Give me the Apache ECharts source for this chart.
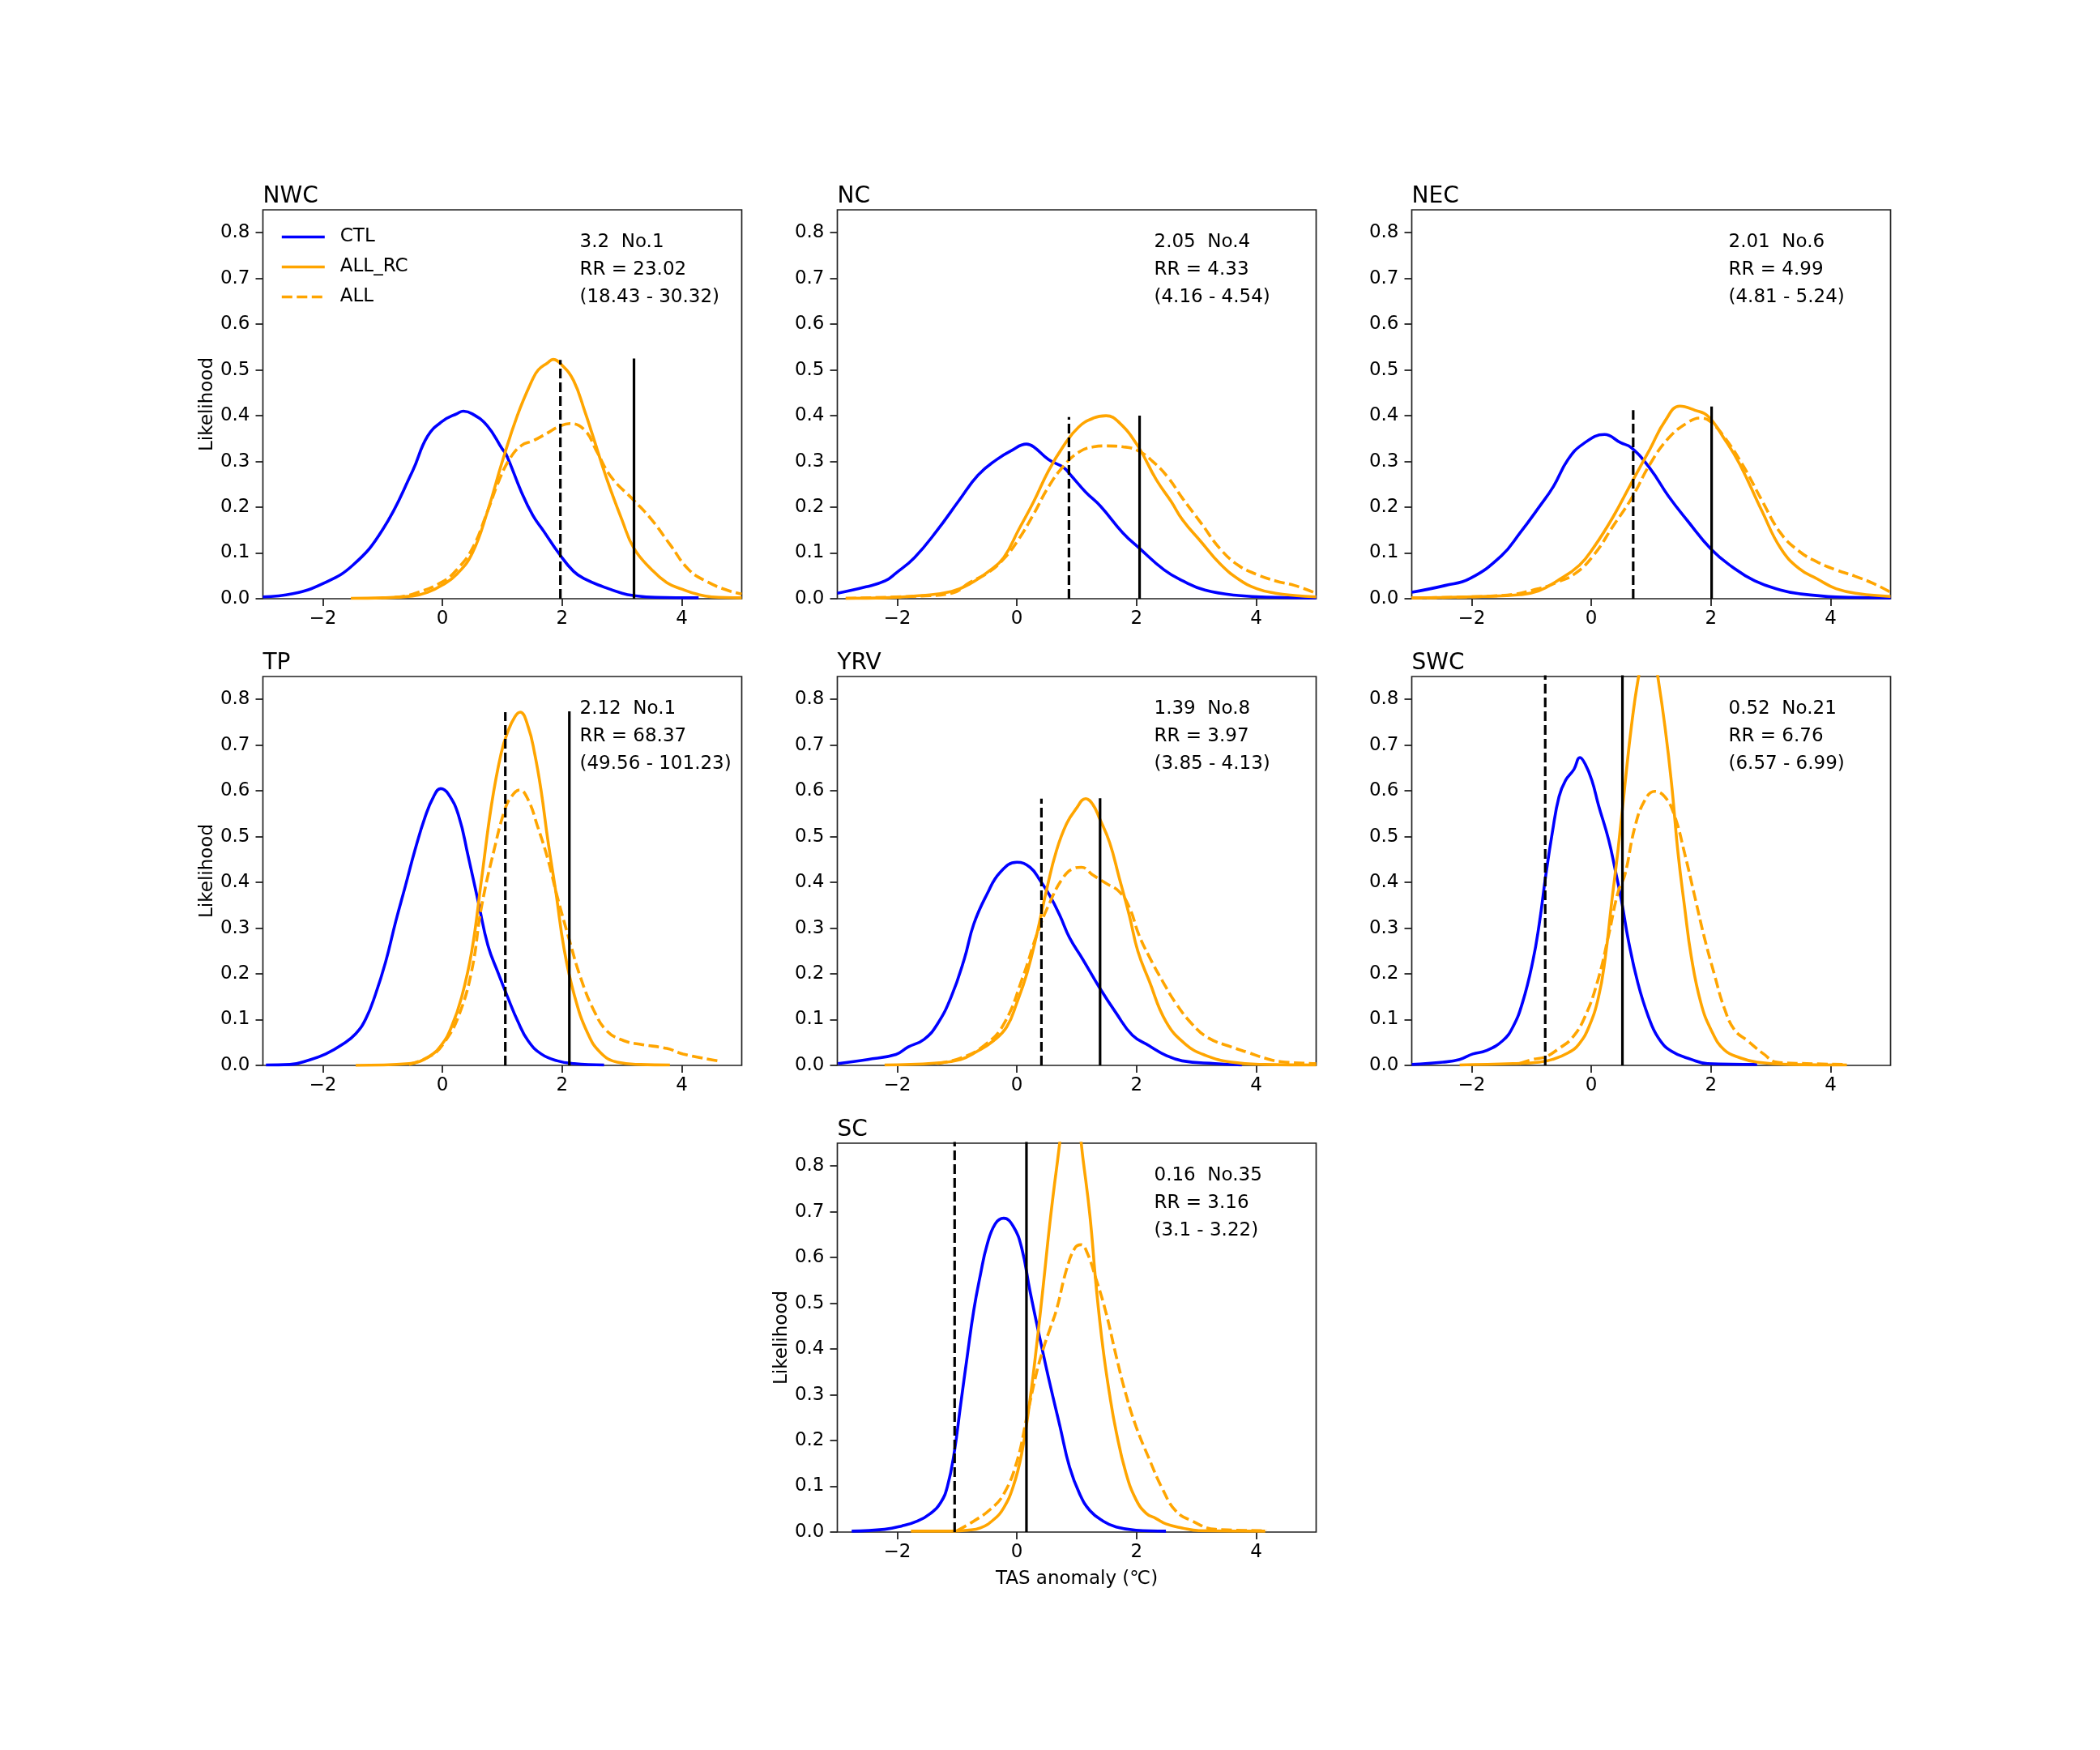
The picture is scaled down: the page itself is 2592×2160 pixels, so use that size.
<!DOCTYPE html>
<html><head><meta charset="utf-8">
<script src="https://cdn.jsdelivr.net/npm/echarts@6/dist/echarts.min.js"></script>
<style>html,body{margin:0;padding:0;background:#fff}#c{width:2592px;height:2160px}</style>
</head><body><div id="c"></div>
<script>
// ---------------- DATA ----------------
const regions = ['NWC', 'NC', 'NEC', 'TP', 'YRV', 'SWC', 'SC'];
const observed = [3.2, 2.05, 2.01, 2.12, 1.39, 0.52, 0.16];      // solid black line
const dashedRef = [1.97, 0.87, 0.70, 1.05, 0.41, -0.77, -1.04];  // dashed black line
const solidTop = [0.525, 0.40, 0.42, 0.774, 0.584, 0.915, 0.955];
const dashedTop = [0.522, 0.397, 0.412, 0.772, 0.583, 0.915, 0.955];
const rankLabels = ['No.1', 'No.4', 'No.6', 'No.1', 'No.8', 'No.21', 'No.35'];
const rrValues = ['23.02', '4.33', '4.99', '68.37', '3.97', '6.76', '3.16'];
const rrLow = ['18.43', '4.16', '4.81', '49.56', '3.85', '6.57', '3.1'];
const rrHigh = ['30.32', '4.54', '5.24', '101.23', '4.13', '6.99', '3.22'];
const seriesNames = ['CTL', 'ALL_RC', 'ALL'];
const xTicks = [-2, 0, 2, 4];
const yTicks = [0, 0.1, 0.2, 0.3, 0.4, 0.5, 0.6, 0.7, 0.8];

const NWC_CTL = [[-3,0.004],[-2.5,0.011],[-2,0.033],[-1.5,0.073],[-1,0.151],[-0.5,0.279],[-0.25,0.355],[0,0.388],[0.25,0.405],[0.35,0.41],[0.5,0.404],[0.75,0.378],[1,0.327],[1.07,0.314],[1.32,0.233],[1.51,0.182],[1.69,0.148],[1.94,0.1],[2.19,0.06],[2.38,0.043],[2.69,0.026],[3.0,0.012],[3.19,0.007],[3.56,0.003],[4.28,0.002]];
const NWC_ALLRC = [[-1.53,0.001],[-1,0.002],[-0.5,0.006],[-0.25,0.014],[0,0.03],[0.25,0.055],[0.5,0.10],[0.75,0.19],[1,0.30],[1.25,0.40],[1.5,0.478],[1.6,0.50],[1.75,0.515],[1.85,0.523],[2,0.51],[2.19,0.477],[2.38,0.409],[2.5,0.361],[2.75,0.26],[3,0.172],[3.2,0.11],[3.5,0.063],[3.75,0.035],[4,0.021],[4.25,0.01],[4.5,0.004],[5,0.002]];
const NWC_ALL = [[-0.8,0.003],[-0.5,0.01],[0,0.037],[0.25,0.065],[0.5,0.11],[0.75,0.19],[0.95,0.26],[1.13,0.307],[1.32,0.335],[1.51,0.345],[1.75,0.362],[1.94,0.376],[2.13,0.383],[2.38,0.368],[2.57,0.324],[2.82,0.266],[3.19,0.216],[3.5,0.172],[3.81,0.117],[4.12,0.063],[4.44,0.036],[4.75,0.019],[5,0.01]];

const NC_CTL = [[-3,0.012],[-2.52,0.026],[-2.2,0.039],[-2.02,0.056],[-1.71,0.09],[-1.34,0.148],[-0.96,0.216],[-0.65,0.27],[-0.34,0.304],[-0.09,0.324],[0.16,0.338],[0.28,0.332],[0.53,0.304],[0.78,0.287],[0.9,0.27],[1.15,0.233],[1.4,0.202],[1.77,0.144],[2.05,0.11],[2.46,0.063],[2.77,0.039],[3.14,0.019],[3.7,0.007],[4.32,0.003],[5,0.002]];
const NC_ALLRC = [[-2.86,0.001],[-2.2,0.002],[-1.59,0.007],[-1.09,0.016],[-0.78,0.033],[-0.47,0.06],[-0.22,0.09],[0.03,0.151],[0.28,0.212],[0.53,0.28],[0.78,0.334],[1.03,0.375],[1.28,0.395],[1.49,0.40],[1.71,0.385],[2.02,0.334],[2.33,0.26],[2.58,0.212],[2.77,0.172],[3.08,0.124],[3.39,0.077],[3.7,0.043],[4.01,0.022],[4.32,0.012],[4.64,0.007],[5,0.004]];
const NC_ALL = [[-2.86,0.001],[-1.59,0.006],[-1.09,0.012],[-0.78,0.036],[-0.47,0.058],[-0.22,0.087],[0.03,0.13],[0.28,0.185],[0.53,0.245],[0.78,0.29],[1.03,0.32],[1.28,0.332],[1.49,0.334],[1.77,0.332],[2.02,0.324],[2.27,0.30],[2.52,0.266],[2.77,0.219],[3.08,0.165],[3.39,0.11],[3.7,0.073],[4.01,0.053],[4.32,0.039],[4.64,0.029],[5,0.012]];

const NEC_CTL = [[-3,0.014],[-2.44,0.029],[-2.03,0.044],[-1.5,0.094],[-1.19,0.144],[-0.88,0.199],[-0.63,0.246],[-0.39,0.304],[-0.14,0.338],[0.22,0.359],[0.49,0.341],[0.67,0.33],[0.98,0.285],[1.29,0.224],[1.61,0.17],[2.01,0.107],[2.35,0.07],[2.73,0.039],[3.16,0.019],[3.47,0.011],[4.09,0.004],[5,0.002]];
const NEC_ALLRC = [[-3,0.002],[-1.82,0.005],[-1.19,0.009],[-0.88,0.017],[-0.57,0.039],[-0.2,0.073],[0.05,0.114],[0.36,0.178],[0.67,0.253],[0.98,0.327],[1.23,0.388],[1.48,0.421],[1.73,0.412],[1.95,0.399],[2.23,0.348],[2.48,0.294],[2.85,0.192],[3.16,0.111],[3.47,0.066],[3.78,0.043],[4.09,0.022],[4.47,0.011],[5,0.005]];
const NEC_ALL = [[-3,0.002],[-1.5,0.007],[-0.88,0.022],[-0.57,0.036],[-0.26,0.056],[0.05,0.097],[0.36,0.158],[0.67,0.219],[0.98,0.294],[1.29,0.351],[1.61,0.385],[1.82,0.395],[1.98,0.388],[2.23,0.352],[2.54,0.29],[2.85,0.215],[3.16,0.144],[3.47,0.104],[3.78,0.08],[4.09,0.063],[4.41,0.049],[4.72,0.033],[5,0.014]];

const TP_CTL = [[-2.95,0.001],[-2.55,0.002],[-2.22,0.012],[-1.95,0.025],[-1.67,0.046],[-1.45,0.069],[-1.28,0.102],[-1.12,0.155],[-0.95,0.226],[-0.78,0.315],[-0.62,0.392],[-0.45,0.475],[-0.29,0.543],[-0.15,0.587],[-0.03,0.605],[0.1,0.593],[0.27,0.546],[0.43,0.457],[0.6,0.356],[0.76,0.262],[0.93,0.202],[1.09,0.149],[1.26,0.096],[1.43,0.054],[1.65,0.025],[1.92,0.01],[2.2,0.004],[2.7,0.001]];
const TP_ALLRC = [[-1.45,0.0],[-0.56,0.004],[-0.23,0.019],[-0.01,0.046],[0.15,0.084],[0.32,0.149],[0.49,0.25],[0.65,0.404],[0.82,0.57],[0.98,0.682],[1.09,0.729],[1.21,0.762],[1.3,0.772],[1.43,0.741],[1.54,0.682],[1.65,0.599],[1.76,0.493],[1.9,0.374],[2.03,0.256],[2.2,0.155],[2.42,0.072],[2.64,0.028],[2.92,0.007],[3.31,0.002],[3.8,0.001]];
const TP_ALL = [[-0.56,0.002],[-0.18,0.022],[0.04,0.052],[0.27,0.108],[0.49,0.208],[0.65,0.345],[0.87,0.475],[1.04,0.558],[1.15,0.587],[1.29,0.602],[1.43,0.581],[1.59,0.522],[1.76,0.451],[1.92,0.368],[2.12,0.274],[2.31,0.191],[2.53,0.12],[2.75,0.075],[3.03,0.054],[3.31,0.046],[3.75,0.037],[4.02,0.025],[4.6,0.01]];

const YRV_CTL = [[-2.99,0.004],[-2.49,0.013],[-2.02,0.024],[-1.82,0.04],[-1.55,0.057],[-1.33,0.09],[-1.1,0.149],[-0.88,0.232],[-0.72,0.309],[-0.5,0.374],[-0.28,0.422],[0,0.444],[0.22,0.433],[0.39,0.404],[0.55,0.371],[0.72,0.327],[0.88,0.279],[1.1,0.232],[1.38,0.17],[1.66,0.114],[1.93,0.066],[2.21,0.043],[2.49,0.022],[2.76,0.01],[3.31,0.004],[3.76,0.001]];
const YRV_ALLRC = [[-2.21,0.001],[-1.38,0.005],[-0.94,0.013],[-0.66,0.031],[-0.39,0.054],[-0.17,0.084],[0,0.137],[0.17,0.202],[0.33,0.285],[0.5,0.386],[0.66,0.469],[0.83,0.528],[0.99,0.561],[1.15,0.583],[1.27,0.57],[1.38,0.54],[1.55,0.487],[1.71,0.41],[1.88,0.327],[2.02,0.25],[2.21,0.185],[2.49,0.096],[2.82,0.046],[3.15,0.022],[3.59,0.007],[4.14,0.002],[5,0.001]];
const YRV_ALL = [[-1.33,0.004],[-0.94,0.016],[-0.55,0.043],[-0.22,0.09],[0.11,0.197],[0.33,0.285],[0.55,0.356],[0.77,0.41],[0.94,0.43],[1.08,0.433],[1.27,0.416],[1.49,0.398],[1.71,0.38],[1.88,0.345],[2.04,0.285],[2.21,0.238],[2.43,0.185],[2.65,0.137],[2.93,0.09],[3.2,0.06],[3.59,0.04],[3.87,0.028],[4.14,0.016],[4.42,0.008],[5,0.004]];

const SWC_CTL = [[-3,0.002],[-2.48,0.007],[-2.2,0.013],[-1.98,0.025],[-1.76,0.032],[-1.48,0.054],[-1.31,0.084],[-1.15,0.137],[-0.98,0.226],[-0.87,0.309],[-0.76,0.416],[-0.65,0.51],[-0.54,0.587],[-0.43,0.623],[-0.29,0.647],[-0.19,0.673],[-0.1,0.658],[0.01,0.623],[0.12,0.569],[0.29,0.493],[0.4,0.427],[0.51,0.356],[0.62,0.273],[0.78,0.179],[0.95,0.108],[1.12,0.06],[1.34,0.031],[1.67,0.013],[1.94,0.004],[2.77,0.002]];
const SWC_ALLRC = [[-2.2,0.001],[-1.31,0.004],[-0.87,0.007],[-0.65,0.013],[-0.38,0.028],[-0.21,0.046],[-0.04,0.084],[0.12,0.149],[0.23,0.232],[0.34,0.356],[0.45,0.475],[0.56,0.611],[0.67,0.741],[0.78,0.842],[0.88,0.9],[0.96,0.915],[1.04,0.9],[1.12,0.842],[1.23,0.741],[1.34,0.617],[1.45,0.463],[1.56,0.345],[1.67,0.238],[1.83,0.137],[2.0,0.078],[2.22,0.034],[2.5,0.016],[2.77,0.007],[3.33,0.002],[4.27,0.001]];
const SWC_ALL = [[-1.2,0.004],[-0.98,0.013],[-0.76,0.019],[-0.54,0.037],[-0.32,0.06],[-0.1,0.108],[0.12,0.191],[0.29,0.285],[0.45,0.38],[0.56,0.416],[0.73,0.522],[0.9,0.581],[1.06,0.599],[1.23,0.587],[1.39,0.546],[1.56,0.463],[1.72,0.374],[1.89,0.279],[2.06,0.197],[2.22,0.126],[2.39,0.078],[2.61,0.054],[2.88,0.025],[3.1,0.007],[3.6,0.004],[4.21,0.002]];

const SC_CTL = [[-2.76,0.002],[-2.21,0.006],[-1.93,0.013],[-1.66,0.024],[-1.44,0.041],[-1.27,0.065],[-1.16,0.1],[-1.05,0.171],[-0.94,0.278],[-0.83,0.384],[-0.72,0.485],[-0.61,0.562],[-0.5,0.627],[-0.36,0.674],[-0.22,0.686],[-0.06,0.668],[0.08,0.621],[0.22,0.526],[0.39,0.42],[0.55,0.325],[0.72,0.231],[0.88,0.142],[1.05,0.083],[1.22,0.047],[1.44,0.024],[1.66,0.011],[1.99,0.004],[2.49,0.002]];
const SC_ALLRC = [[-1.77,0.002],[-1.1,0.002],[-0.83,0.004],[-0.61,0.009],[-0.39,0.027],[-0.22,0.053],[-0.06,0.1],[0.08,0.171],[0.22,0.29],[0.33,0.408],[0.44,0.538],[0.55,0.674],[0.66,0.792],[0.8,0.92],[0.9,0.955],[1.0,0.92],[1.11,0.81],[1.22,0.692],[1.33,0.53],[1.44,0.40],[1.55,0.30],[1.66,0.219],[1.82,0.13],[1.99,0.071],[2.16,0.041],[2.32,0.03],[2.49,0.018],[2.76,0.009],[3.04,0.003],[4.15,0.002]];
const SC_ALL = [[-1,0.003],[-0.72,0.024],[-0.44,0.05],[-0.22,0.083],[0,0.154],[0.17,0.254],[0.33,0.349],[0.44,0.40],[0.55,0.443],[0.66,0.485],[0.83,0.574],[0.97,0.621],[1.07,0.628],[1.16,0.615],[1.33,0.55],[1.49,0.479],[1.66,0.384],[1.82,0.302],[1.99,0.231],[2.21,0.16],[2.43,0.095],[2.65,0.047],[2.93,0.024],[3.32,0.006],[4.17,0.003]];

const curveSets = [
  [NWC_CTL, NWC_ALLRC, NWC_ALL],
  [NC_CTL, NC_ALLRC, NC_ALL],
  [NEC_CTL, NEC_ALLRC, NEC_ALL],
  [TP_CTL, TP_ALLRC, TP_ALL],
  [YRV_CTL, YRV_ALLRC, YRV_ALL],
  [SWC_CTL, SWC_ALLRC, SWC_ALL],
  [SC_CTL, SC_ALLRC, SC_ALL]
];

// ---------------- LAYOUT / STYLE ----------------
const FONT = 'DejaVu Sans';
const GRID_W = 591, GRID_H = 480;
const COL_X = [324.5, 1033.5, 1742.5];
const ROW_Y = [259, 835, 1411];
const panelCell = [[0,0],[0,1],[0,2],[1,0],[1,1],[1,2],[2,1]];
const yLabelPanels = [0, 3, 6];
const xLabelPanels = [6];
const BLUE = '#0000ff', ORANGE = '#ffa500';
const LW = 3.6;

const grid = [], xAxis = [], yAxis = [], series = [], graphic = [];
const minus = s => String(s).replace('-', '\u2212');

regions.forEach((name, i) => {
  const [r, c] = panelCell[i];
  const left = COL_X[c], top = ROW_Y[r];
  grid.push({left: left, top: top, width: GRID_W, height: GRID_H, show: true,
    borderColor: '#222', borderWidth: 1.7, backgroundColor: 'rgba(0,0,0,0)'});
  const tickStyle = {show: true, length: 9, inside: false, lineStyle: {color: '#222', width: 1.8}};
  xAxis.push({gridIndex: i, type: 'value', min: -3, max: 5,
    name: xLabelPanels.includes(i) ? 'TAS anomaly (\u2103)' : '',
    nameLocation: 'middle', nameGap: 47,
    nameTextStyle: {fontSize: 23, fontFamily: FONT, color: '#000'},
    axisLine: {show: false, onZero: false}, splitLine: {show: false},
    axisTick: Object.assign({customValues: xTicks}, tickStyle),
    axisLabel: {customValues: xTicks, formatter: v => minus(v), fontSize: 23, fontFamily: FONT, color: '#000', margin: 14}
  });
  yAxis.push({gridIndex: i, type: 'value', min: 0, max: 0.85,
    name: yLabelPanels.includes(i) ? 'Likelihood' : '',
    nameLocation: 'middle', nameGap: 56, nameRotate: 90,
    nameTextStyle: {fontSize: 23, fontFamily: FONT, color: '#000'},
    axisLine: {show: false, onZero: false}, splitLine: {show: false},
    axisTick: Object.assign({customValues: yTicks}, tickStyle),
    axisLabel: {customValues: yTicks, formatter: v => v.toFixed(1), fontSize: 23, fontFamily: FONT, color: '#000', margin: 16}
  });
  const styles = [
    {color: BLUE, width: LW, type: 'solid'},
    {color: ORANGE, width: LW, type: 'solid'},
    {color: ORANGE, width: LW, type: [13, 5.5]}
  ];
  curveSets[i].forEach((data, k) => {
    series.push({type: 'line', name: seriesNames[k], xAxisIndex: i, yAxisIndex: i,
      data: data, symbol: 'none', showSymbol: false, smooth: 0.45,
      lineStyle: styles[k], itemStyle: {color: styles[k].color}, silent: true, z: 2 + k, clip: true});
  });
  series.push({type: 'line', name: 'dashedRef', xAxisIndex: i, yAxisIndex: i,
    data: [[dashedRef[i], 0], [dashedRef[i], dashedTop[i]]], symbol: 'none', silent: true, z: 6, clip: true,
    lineStyle: {color: '#000', width: 3.2, type: [12, 5]}});
  series.push({type: 'line', name: 'observed', xAxisIndex: i, yAxisIndex: i,
    data: [[observed[i], 0], [observed[i], solidTop[i]]], symbol: 'none', silent: true, z: 6, clip: true,
    lineStyle: {color: '#000', width: 3.2, type: 'solid'}});

  graphic.push({type: 'text', x: left, y: top - 16, silent: true,
    style: {text: name, font: '28px "DejaVu Sans"', fill: '#000',
      align: 'left', textAlign: 'left', verticalAlign: 'middle', textVerticalAlign: 'middle'}});
  const txt = observed[i] + '  ' + rankLabels[i] + '\nRR = ' + rrValues[i] + '\n(' + rrLow[i] + ' - ' + rrHigh[i] + ')';
  graphic.push({type: 'text', x: left + 391, y: top + 23, silent: true,
    style: {text: txt, font: '23px "DejaVu Sans"', fill: '#000', lineHeight: 34,
      align: 'left', textAlign: 'left', verticalAlign: 'top', textVerticalAlign: 'top'}});
});

const option = {
  backgroundColor: '#ffffff',
  animation: false,
  grid: grid, xAxis: xAxis, yAxis: yAxis, series: series, graphic: graphic,
  legend: {show: true, data: seriesNames, orient: 'vertical', left: 346, top: 281,
    itemWidth: 53, itemHeight: 23, itemGap: 14, padding: 0, selectedMode: false,
    itemStyle: {color: 'rgba(0,0,0,0)', borderColor: 'rgba(0,0,0,0)', borderWidth: 0},
    lineStyle: {width: 3.6},
    textStyle: {fontSize: 23, fontFamily: FONT, color: '#000', padding: [0, 0, 0, 14]}}
};

const chart = echarts.init(document.getElementById('c'), null, {renderer: 'canvas'});
chart.setOption(option);
</script></body></html>
